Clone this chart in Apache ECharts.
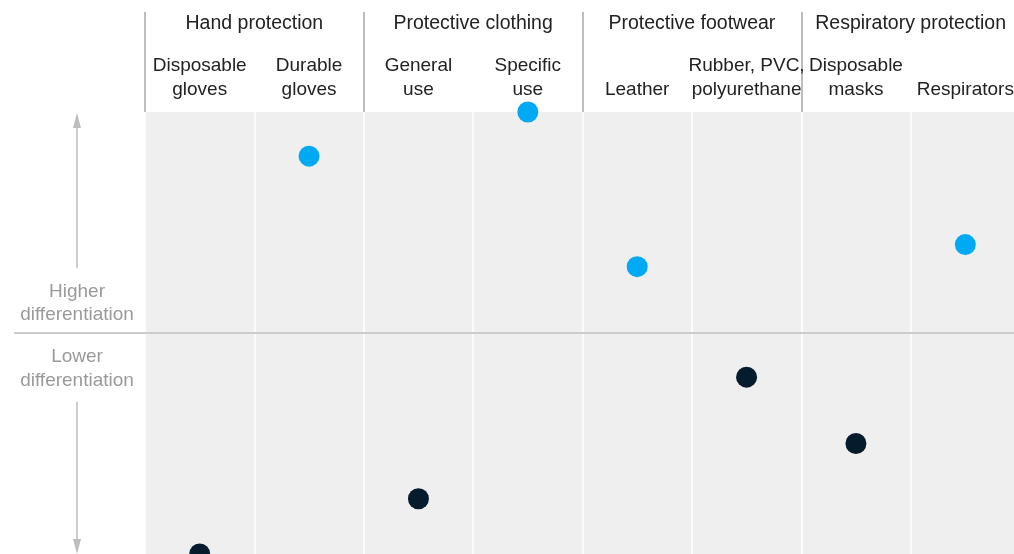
<!DOCTYPE html>
<html>
<head>
<meta charset="utf-8">
<script src="https://cdn.jsdelivr.net/npm/echarts@6/dist/echarts.min.js"></script>
<style>
html,body{margin:0;padding:0;background:#fff;}
#chart{width:1014px;height:554px;}
</style>
</head>
<body>
<div id="chart"></div>
<script>
// Data
var groups = ['Hand protection', 'Protective clothing', 'Protective footwear', 'Respiratory protection'];
var categories = ['Disposable\ngloves', 'Durable\ngloves', 'General\nuse', 'Specific\nuse', 'Leather', 'Rubber, PVC,\npolyurethane', 'Disposable\nmasks', 'Respirators'];
var differentiation = [0, 90, 12.5, 100, 65, 40, 25, 70];
var yMin = 0, yMax = 100, threshold = 50;
var upperLabel = 'Higher\ndifferentiation';
var lowerLabel = 'Lower\ndifferentiation';

var FONT = "'Liberation Sans', Arial, sans-serif";
var HIGH = '#00a9f4', LOW = '#051c2c';

var chart = echarts.init(document.getElementById('chart'));
var option = {
  animation: false,
  backgroundColor: '#ffffff',
  grid: {left: 145, top: 112, width: 875, height: 442, outerBoundsMode: 'none', containLabel: false, show: true, backgroundColor: '#efefef', borderWidth: 0},
  xAxis: [{
    type: 'category', data: categories, position: 'top', boundaryGap: true,
    axisLine: {show: false}, axisTick: {show: false},
    splitLine: {show: true, lineStyle: {color: '#ffffff', width: 1.5}},
    axisLabel: {interval: 0, margin: 10, color: '#222', fontFamily: FONT, fontSize: 19, lineHeight: 24, verticalAlign: 'bottom', align: 'center', hideOverlap: false}
  }, {
    type: 'category', data: groups, position: 'top', boundaryGap: true,
    axisLine: {show: false},
    axisTick: {show: true, length: 100, lineStyle: {color: '#a8a8a8', width: 1.5}},
    splitLine: {show: false},
    axisLabel: {interval: 0, margin: 88, color: '#222', fontFamily: FONT, fontSize: 19.5, verticalAlign: 'middle', align: 'center'}
  }],
  yAxis: {type: 'value', min: yMin, max: yMax, show: false, splitLine: {show: false}},
  series: [{
    type: 'scatter', xAxisIndex: 0, clip: false, symbolSize: 21,
    data: differentiation,
    itemStyle: {opacity: 1, color: function (p) { return p.value >= threshold ? HIGH : LOW; }},
    z: 5
  }]
};
chart.setOption(option);

// Decorations anchored to the axis scale
var midY = chart.convertToPixel({gridIndex: 0}, [0, threshold])[1];
var topY = chart.convertToPixel({gridIndex: 0}, [0, yMax])[1];
var botY = chart.convertToPixel({gridIndex: 0}, [0, yMin])[1];
var rightX = 1014;
var ax = 77;
var arrowCol = '#bdbdbd';
var txtCol = '#9a9a9a';
chart.setOption({
  graphic: [
    {type: 'line', z: 3, shape: {x1: 14, y1: midY, x2: rightX, y2: midY}, style: {stroke: '#cccccc', lineWidth: 2}},
    {type: 'line', shape: {x1: ax, y1: topY + 12, x2: ax, y2: midY - 65}, style: {stroke: arrowCol, lineWidth: 1.5}},
    {type: 'polygon', shape: {points: [[ax, topY + 1], [ax - 4, topY + 16], [ax + 4, topY + 16]]}, style: {fill: arrowCol}},
    {type: 'line', shape: {x1: ax, y1: midY + 69, x2: ax, y2: botY - 12}, style: {stroke: arrowCol, lineWidth: 1.5}},
    {type: 'polygon', shape: {points: [[ax, botY], [ax - 4, botY - 15], [ax + 4, botY - 15]]}, style: {fill: arrowCol}},
    {type: 'text', x: ax, y: midY - 29.5, style: {text: upperLabel, align: 'center', verticalAlign: 'middle', fontFamily: FONT, fontSize: 19, lineHeight: 23, fill: txtCol}},
    {type: 'text', x: ax, y: midY + 36, style: {text: lowerLabel, align: 'center', verticalAlign: 'middle', fontFamily: FONT, fontSize: 19, lineHeight: 24, fill: txtCol}}
  ]
});
</script>
</body>
</html>
